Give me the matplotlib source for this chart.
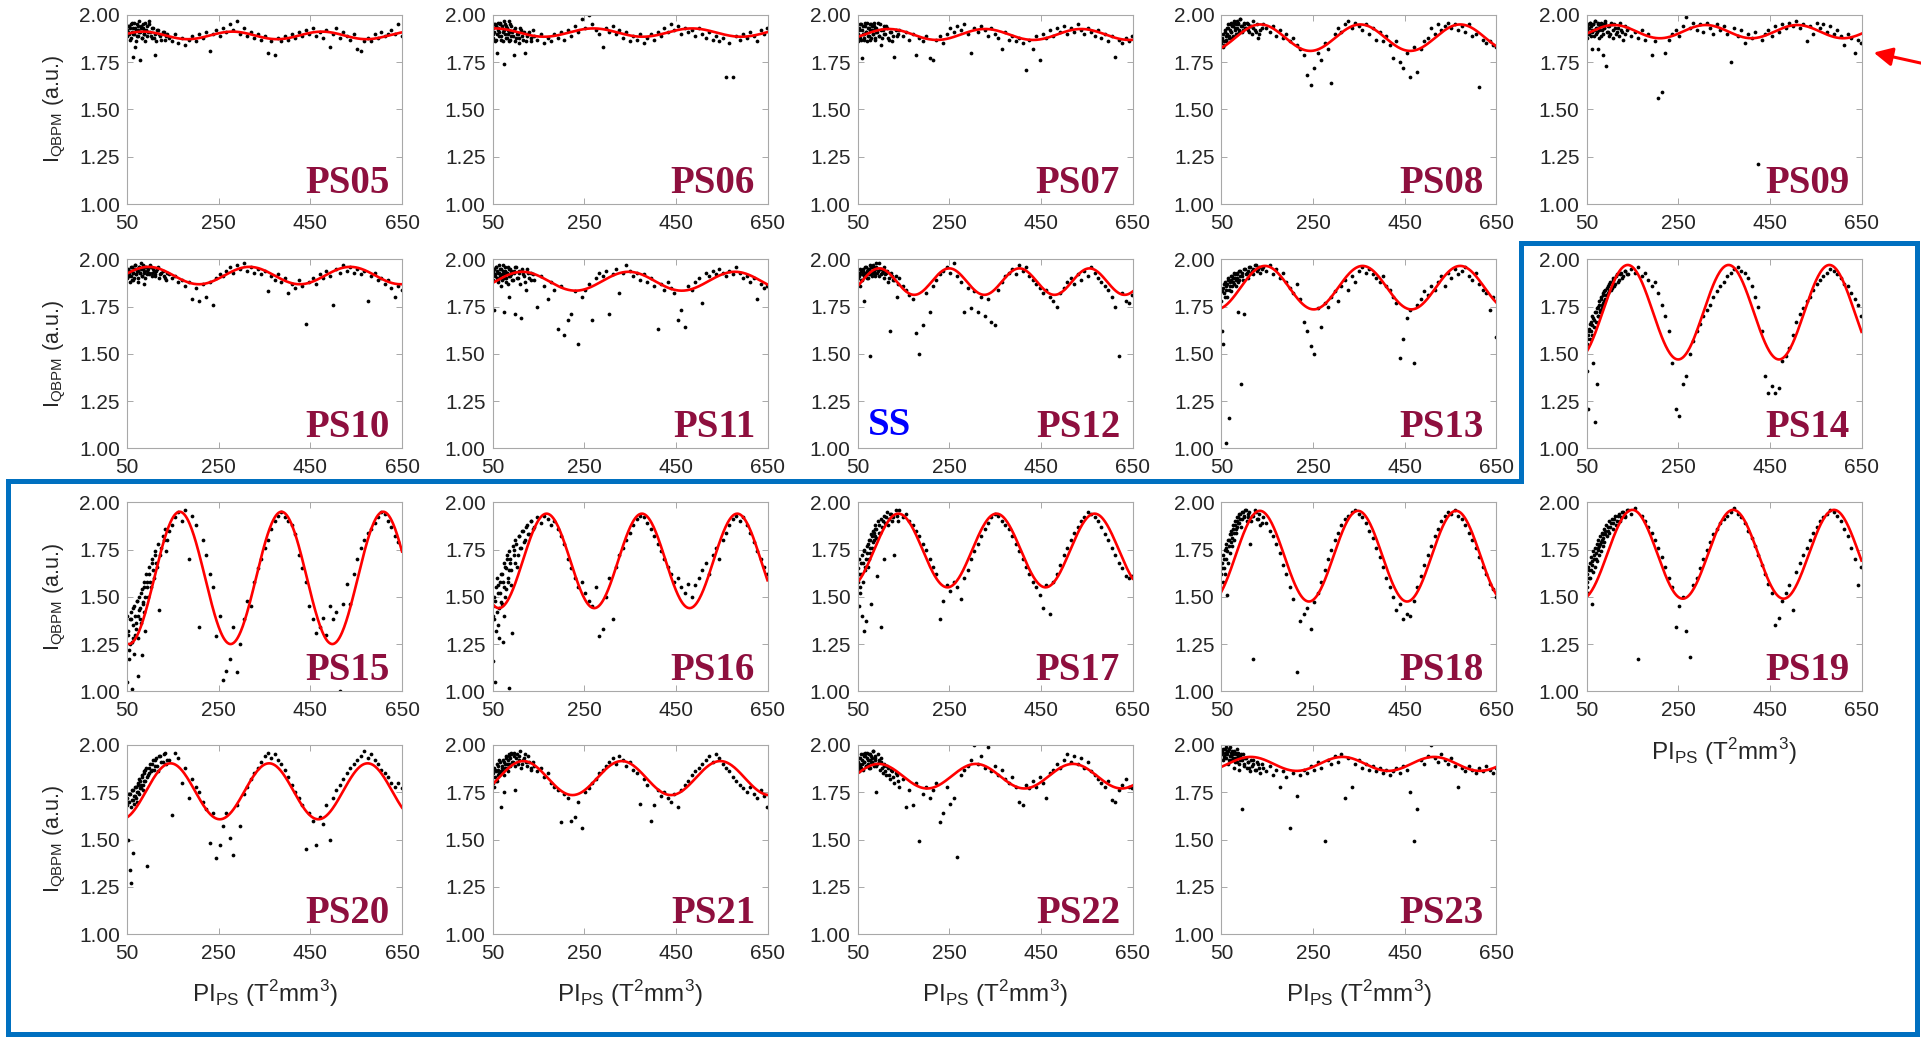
import numpy as np
import matplotlib
matplotlib.use("Agg")
import matplotlib.pyplot as plt
from matplotlib.patches import Polygon, FancyArrowPatch

plt.rcParams['font.family'] = ['Liberation Sans', 'DejaVu Sans']
plt.rcParams['mathtext.fontset'] = 'custom'
plt.rcParams['mathtext.rm'] = 'Liberation Sans'

# PI_PS scan points (shared by every phase shifter)
pi_scan = [50, 51, 53, 54, 56, 57, 59, 60, 62, 63, 65, 66,
           68, 70, 72, 74, 76, 78, 80, 82, 84, 86, 88, 90,
           93, 96, 99, 102, 105, 108, 112, 116, 120, 125, 130, 135,
           141, 148, 155, 162, 170, 177, 185, 192, 200, 207, 215, 222,
           230, 237, 245, 252, 260, 267, 275, 282, 290, 297, 305, 312,
           320, 327, 335, 342, 350, 357, 365, 372, 380, 387, 395, 402,
           410, 417, 425, 432, 440, 447, 455, 462, 470, 477, 485, 492,
           500, 507, 515, 522, 530, 537, 545, 552, 560, 567, 575, 582,
           590, 597, 605, 612, 620, 627, 635, 642, 649]
# second, denser pass over the start of the scan
pi_scan2 = [52, 55, 58, 61, 64, 67, 69, 71, 73, 75,
            77, 79, 81, 83, 85, 87, 89, 91, 94, 97,
            100, 104, 107, 110, 114, 118, 123, 128, 133, 138]

panel_names = ['PS05', 'PS06', 'PS07', 'PS08', 'PS09',
               'PS10', 'PS11', 'PS12', 'PS13', 'PS14',
               'PS15', 'PS16', 'PS17', 'PS18', 'PS19',
               'PS20', 'PS21', 'PS22', 'PS23']

# sine fit parameters
fit_mid = [1.892, 1.907, 1.897, 1.88, 1.912, 1.914, 1.884, 1.882, 1.85, 1.72,
           1.60, 1.69, 1.745, 1.715, 1.725, 1.755, 1.825, 1.835, 1.90]
fit_amp = [0.020, 0.022, 0.029, 0.07, 0.035, 0.046, 0.05, 0.07, 0.115, 0.25,
           0.35, 0.25, 0.195, 0.24, 0.235, 0.148, 0.09, 0.065, 0.037]
fit_period = [195, 215, 210, 218, 200, 220, 232, 153, 213, 220,
              222, 208, 214, 214, 220, 215, 215, 212, 200]
fit_peak = [85, 270, 118, 135, 110, 97, 115, 97, 145, 140,
            165, 168, 139, 134, 150, 145, 117, 96, 114]

ps05_y = [1.92, 1.89, 1.94, 1.90, 1.93, 1.87, 1.95, 1.91, 1.78, 1.93, 1.90, 1.96,
          1.83, 1.92, 1.89, 1.94, 1.91, 1.76, 1.93, 1.88, 1.95, 1.90, 1.92, 1.86,
          1.94, 1.91, 1.97, 1.89, 1.93, 1.88, 1.79, 1.92, 1.90, 1.87, 1.91, 1.89,
          1.88, 1.86, 1.90, 1.85, 1.88, 1.84, 1.87, 1.89, 1.86, 1.90, 1.88, 1.91,
          1.81, 1.90, 1.92, 1.89, 1.93, 1.91, 1.95, 1.92, 1.97, 1.90, 1.93, 1.89,
          1.91, 1.88, 1.90, 1.87, 1.89, 1.80, 1.86, 1.79, 1.88, 1.86, 1.89, 1.87,
          1.90, 1.88, 1.91, 1.89, 1.92, 1.90, 1.93, 1.89, 1.91, 1.88, 1.92, 1.83,
          1.90, 1.93, 1.88, 1.91, 1.89, 1.87, 1.90, 1.82, 1.81, 1.86, 1.88, 1.86,
          1.90, 1.88, 1.91, 1.89, 1.90, 1.92, 1.90, 1.95, 1.89]
ps06_y = [1.93, 1.88, 1.95, 1.91, 1.86, 1.94, 1.90, 1.80, 1.96, 1.92, 1.89, 1.95,
          1.87, 1.93, 1.91, 1.97, 1.74, 1.90, 1.94, 1.88, 1.92, 1.86, 1.95, 1.89,
          1.91, 1.79, 1.93, 1.88, 1.90, 1.85, 1.92, 1.87, 1.80, 1.89, 1.91, 1.86,
          1.89, 1.87, 1.90, 1.85, 1.88, 1.86, 1.90, 1.88, 1.91, 1.87, 1.92, 1.89,
          1.94, 1.91, 1.98, 1.93, 2.00, 1.95, 1.92, 1.90, 1.83, 1.93, 1.91, 1.94,
          1.90, 1.92, 1.88, 1.91, 1.86, 1.89, 1.87, 1.90, 1.85, 1.88, 1.90, 1.87,
          1.91, 1.89, 1.93, 1.91, 1.95, 1.92, 1.94, 1.90, 1.93, 1.91, 1.92, 1.89,
          1.93, 1.90, 1.88, 1.91, 1.87, 1.89, 1.86, 1.88, 1.67, 1.85, 1.67, 1.89,
          1.87, 1.90, 1.88, 1.91, 1.89, 1.86, 1.92, 1.90, 1.93]
ps07_y = [1.90, 1.86, 1.93, 1.89, 1.95, 1.87, 1.92, 1.77, 1.94, 1.90, 1.88, 1.96,
          1.91, 1.86, 1.93, 1.89, 1.95, 1.92, 1.88, 1.94, 1.90, 1.96, 1.87, 1.93,
          1.91, 1.89, 1.95, 1.84, 1.92, 1.90, 1.94, 1.88, 1.91, 1.86, 1.78, 1.89,
          1.92, 1.89, 1.91, 1.87, 1.90, 1.79, 1.88, 1.86, 1.89, 1.77, 1.76, 1.87,
          1.89, 1.85, 1.90, 1.93, 1.91, 1.94, 1.92, 1.95, 1.90, 1.80, 1.93, 1.91,
          1.94, 1.92, 1.89, 1.93, 1.90, 1.88, 1.82, 1.91, 1.87, 1.89, 1.86, 1.88,
          1.85, 1.71, 1.87, 1.82, 1.89, 1.76, 1.90, 1.88, 1.92, 1.89, 1.93, 1.91,
          1.94, 1.90, 1.93, 1.91, 1.95, 1.92, 1.90, 1.93, 1.91, 1.89, 1.92, 1.88,
          1.90, 1.86, 1.89, 1.78, 1.87, 1.85, 1.88, 1.86, 1.89]
ps08_y = [1.85, 1.88, 1.83, 1.90, 1.86, 1.92, 1.89, 1.87, 1.93, 1.90, 1.95, 1.88,
          1.92, 1.96, 1.91, 1.94, 1.89, 1.97, 1.93, 1.95, 1.90, 1.96, 1.92, 1.98,
          1.94, 1.91, 1.95, 1.93, 1.96, 1.92, 1.94, 1.90, 1.93, 1.91, 1.88, 1.92,
          1.95, 1.93, 1.91, 1.94, 1.89, 1.92, 1.88, 1.90, 1.86, 1.88, 1.84, 1.82,
          1.79, 1.68, 1.63, 1.72, 1.80, 1.76, 1.85, 1.82, 1.64, 1.90, 1.93, 1.91,
          1.95, 1.97, 1.93, 1.96, 1.94, 1.92, 1.95, 1.90, 1.93, 1.87, 1.91, 1.86,
          1.89, 1.84, 1.77, 1.86, 1.75, 1.72, 1.80, 1.67, 1.83, 1.70, 1.82, 1.86,
          1.88, 1.93, 1.90, 1.95, 1.92, 1.94, 1.96, 1.93, 1.95, 1.92, 1.94, 1.91,
          1.95, 1.89, 1.90, 1.62, 1.87, 1.85, 1.86, 1.84, 1.83]
ps09_y = [1.92, 1.88, 1.95, 1.90, 1.93, 1.96, 1.89, 1.94, 1.91, 1.82, 1.95, 1.92,
          1.97, 1.90, 1.93, 1.82, 1.96, 1.92, 1.94, 1.89, 1.95, 1.79, 1.93, 1.96,
          1.73, 1.91, 1.94, 1.90, 1.95, 1.88, 1.93, 1.91, 1.89, 1.92, 1.87, 1.90,
          1.93, 1.89, 1.91, 1.88, 1.92, 1.87, 1.90, 1.79, 1.86, 1.56, 1.59, 1.80,
          1.87, 1.90, 1.92, 1.89, 1.94, 1.99, 1.93, 1.96, 1.92, 1.95, 1.91, 1.96,
          1.93, 1.90, 1.95, 1.92, 1.94, 1.90, 1.75, 1.93, 1.89, 1.92, 1.85, 1.90,
          1.88, 1.91, 1.21, 1.87, 1.90, 1.92, 1.89, 1.94, 1.91, 1.95, 1.93, 1.96,
          1.94, 1.97, 1.93, 1.95, 1.86, 1.94, 1.90, 1.96, 1.93, 1.95, 1.91, 1.94,
          1.90, 1.92, 1.89, 1.84, 1.90, 1.88, 1.80, 1.87, 1.85]
ps10_y = [1.93, 1.90, 1.95, 1.92, 1.88, 1.94, 1.91, 1.96, 1.89, 1.93, 1.95, 1.90,
          1.97, 1.92, 1.94, 1.88, 1.96, 1.93, 1.95, 1.91, 1.97, 1.94, 1.87, 1.96,
          1.92, 1.95, 1.93, 1.96, 1.91, 1.94, 1.92, 1.95, 1.90, 1.93, 1.91, 1.89,
          1.92, 1.90, 1.91, 1.88, 1.89, 1.86, 1.88, 1.79, 1.85, 1.78, 1.87, 1.80,
          1.88, 1.76, 1.90, 1.92, 1.91, 1.94, 1.96, 1.93, 1.97, 1.95, 1.98, 1.94,
          1.96, 1.93, 1.95, 1.92, 1.94, 1.83, 1.91, 1.89, 1.92, 1.88, 1.90, 1.82,
          1.87, 1.85, 1.89, 1.86, 1.66, 1.88, 1.90, 1.87, 1.92, 1.90, 1.94, 1.91,
          1.76, 1.95, 1.93, 1.97, 1.94, 1.96, 1.93, 1.95, 1.92, 1.94, 1.78, 1.91,
          1.93, 1.89, 1.90, 1.87, 1.89, 1.85, 1.80, 1.86, 1.84]
ps11_y = [1.93, 1.89, 1.95, 1.73, 1.92, 1.96, 1.90, 1.94, 1.88, 1.93, 1.97, 1.91,
          1.95, 1.89, 1.94, 1.72, 1.92, 1.96, 1.90, 1.93, 1.87, 1.95, 1.91, 1.94,
          1.89, 1.93, 1.71, 1.96, 1.90, 1.94, 1.69, 1.92, 1.88, 1.95, 1.90, 1.93,
          1.89, 1.75, 1.91, 1.86, 1.79, 1.88, 1.84, 1.63, 1.86, 1.60, 1.68, 1.71,
          1.83, 1.55, 1.80, 1.84, 1.87, 1.68, 1.90, 1.93, 1.91, 1.94, 1.71, 1.92,
          1.95, 1.82, 1.93, 1.97, 1.94, 1.91, 1.93, 1.89, 1.92, 1.88, 1.90, 1.86,
          1.63, 1.87, 1.84, 1.88, 1.85, 1.82, 1.68, 1.73, 1.64, 1.86, 1.84, 1.88,
          1.90, 1.77, 1.93, 1.91, 1.94, 1.92, 1.95, 1.93, 1.91, 1.94, 1.92, 1.96,
          1.93, 1.90, 1.91, 1.88, 1.90, 1.79, 1.87, 1.85, 1.86]
ps12_y = [1.90, 1.87, 1.93, 1.91, 1.86, 1.94, 1.92, 1.89, 1.95, 1.78, 1.93, 1.91,
          1.96, 1.94, 1.90, 1.95, 1.92, 1.49, 1.96, 1.93, 1.97, 1.94, 1.91, 1.96,
          1.93, 1.98, 1.95, 1.92, 1.94, 1.90, 1.93, 1.88, 1.62, 1.91, 1.89, 1.80,
          1.90, 1.86, 1.84, 1.81, 1.79, 1.61, 1.50, 1.65, 1.82, 1.72, 1.86, 1.89,
          1.92, 1.94, 1.96, 1.93, 1.98, 1.91, 1.88, 1.72, 1.85, 1.74, 1.83, 1.72,
          1.80, 1.70, 1.79, 1.67, 1.65, 1.84, 1.88, 1.91, 1.93, 1.95, 1.92, 1.97,
          1.94, 1.96, 1.91, 1.89, 1.87, 1.85, 1.82, 1.84, 1.80, 1.78, 1.75, 1.82,
          1.85, 1.88, 1.90, 1.87, 1.92, 1.89, 1.94, 1.91, 1.96, 1.93, 1.90, 1.88,
          1.86, 1.84, 1.80, 1.75, 1.49, 1.82, 1.78, 1.77, 1.81]
ps13_y = [1.78, 1.62, 1.85, 1.55, 1.82, 1.88, 1.03, 1.84, 1.80, 1.87, 1.90, 1.16,
          1.86, 1.89, 1.83, 1.91, 1.88, 1.93, 1.90, 1.86, 1.92, 1.72, 1.89, 1.94,
          1.34, 1.91, 1.71, 1.95, 1.93, 1.90, 1.96, 1.94, 1.92, 1.97, 1.95, 1.93,
          1.96, 1.94, 1.97, 1.92, 1.95, 1.90, 1.93, 1.88, 1.85, 1.82, 1.87, 1.79,
          1.67, 1.62, 1.54, 1.50, 1.74, 1.64, 1.77, 1.75, 1.80, 1.83, 1.78, 1.86,
          1.89, 1.84, 1.91, 1.88, 1.94, 1.96, 1.93, 1.95, 1.92, 1.90, 1.88, 1.91,
          1.86, 1.84, 1.80, 1.77, 1.48, 1.58, 1.69, 1.73, 1.45, 1.76, 1.79, 1.83,
          1.81, 1.86, 1.84, 1.88, 1.91, 1.86, 1.93, 1.90, 1.95, 1.92, 1.94, 1.96,
          1.91, 1.89, 1.93, 1.87, 1.84, 1.82, 1.73, 1.80, 1.59]
ps14_y = [1.55, 1.41, 1.60, 1.21, 1.63, 1.58, 1.67, 1.62, 1.70, 1.65, 1.45, 1.68,
          1.14, 1.72, 1.34, 1.75, 1.70, 1.78, 1.73, 1.80, 1.76, 1.82, 1.78, 1.84,
          1.81, 1.86, 1.83, 1.88, 1.85, 1.90, 1.87, 1.92, 1.89, 1.93, 1.91, 1.94,
          1.92, 1.95, 1.93, 1.96, 1.91, 1.93, 1.89, 1.86, 1.88, 1.82, 1.76, 1.70,
          1.62, 1.45, 1.21, 1.17, 1.34, 1.38, 1.50, 1.57, 1.62, 1.66, 1.70, 1.73,
          1.76, 1.80, 1.83, 1.86, 1.88, 1.91, 1.93, 1.95, 1.96, 1.94, 1.93, 1.90,
          1.86, 1.80, 1.75, 1.62, 1.38, 1.29, 1.33, 1.29, 1.32, 1.46, 1.49, 1.53,
          1.60, 1.67, 1.71, 1.74, 1.78, 1.80, 1.84, 1.87, 1.89, 1.91, 1.93, 1.95,
          1.94, 1.92, 1.90, 1.87, 1.86, 1.82, 1.79, 1.76, 1.70]
ps15_y = [1.40, 1.05, 1.30, 1.17, 1.38, 1.25, 1.42, 1.01, 1.35, 1.28, 1.45, 1.20,
          1.40, 1.33, 1.48, 1.08, 1.43, 1.38, 1.52, 1.19, 1.47, 1.55, 1.42, 1.32,
          1.58, 1.50, 1.62, 1.55, 1.68, 1.60, 1.72, 1.66, 1.43, 1.76, 1.80, 1.74,
          1.85, 1.88, 1.92, 1.95, 1.90, 1.96, 1.70, 1.93, 1.88, 1.34, 1.80, 1.72,
          1.62, 1.55, 1.29, 1.40, 1.06, 1.11, 1.17, 1.34, 1.10, 1.25, 1.38, 1.48,
          1.45, 1.58, 1.65, 1.70, 1.76, 1.80, 1.86, 1.90, 1.93, 1.95, 1.92, 1.90,
          1.88, 1.83, 1.72, 1.65, 1.58, 1.45, 1.38, 1.31, 1.34, 1.39, 1.30, 1.45,
          1.38, 1.42, 1.00, 1.46, 1.57, 1.46, 1.62, 1.70, 1.76, 1.80, 1.84, 1.86,
          1.89, 1.92, 1.95, 1.94, 1.90, 1.87, 1.82, 1.79, 1.76]
ps16_y = [1.45, 1.16, 1.50, 1.38, 1.05, 1.55, 1.42, 1.60, 1.35, 1.52, 1.28, 1.58,
          1.47, 1.62, 1.26, 1.55, 1.68, 1.50, 1.65, 1.72, 1.58, 1.02, 1.70, 1.64,
          1.31, 1.75, 1.68, 1.78, 1.72, 1.82, 1.76, 1.85, 1.80, 1.88, 1.83, 1.90,
          1.87, 1.92, 1.89, 1.93, 1.91, 1.88, 1.90, 1.86, 1.82, 1.78, 1.70, 1.65,
          1.60, 1.55, 1.58, 1.52, 1.48, 1.45, 1.55, 1.29, 1.33, 1.50, 1.60, 1.38,
          1.66, 1.72, 1.76, 1.80, 1.84, 1.88, 1.91, 1.93, 1.92, 1.89, 1.86, 1.82,
          1.78, 1.74, 1.70, 1.66, 1.62, 1.58, 1.60, 1.55, 1.52, 1.57, 1.50, 1.56,
          1.60, 1.64, 1.68, 1.62, 1.72, 1.76, 1.70, 1.80, 1.84, 1.88, 1.91, 1.93,
          1.90, 1.92, 1.88, 1.84, 1.79, 1.74, 1.70, 1.66, 1.62]
ps17_y = [1.58, 1.65, 1.45, 1.70, 1.55, 1.62, 1.72, 1.40, 1.68, 1.75, 1.32, 1.66,
          1.37, 1.73, 1.78, 1.70, 1.80, 1.76, 1.46, 1.82, 1.79, 1.84, 1.86, 1.81,
          1.61, 1.88, 1.84, 1.34, 1.90, 1.70, 1.92, 1.88, 1.94, 1.90, 1.72, 1.93,
          1.96, 1.92, 1.94, 1.90, 1.88, 1.85, 1.82, 1.78, 1.75, 1.70, 1.66, 1.62,
          1.38, 1.48, 1.56, 1.53, 1.58, 1.55, 1.49, 1.60, 1.64, 1.70, 1.74, 1.78,
          1.82, 1.86, 1.89, 1.92, 1.94, 1.93, 1.90, 1.88, 1.86, 1.82, 1.78, 1.74,
          1.70, 1.66, 1.62, 1.58, 1.55, 1.51, 1.44, 1.56, 1.41, 1.58, 1.62, 1.67,
          1.72, 1.76, 1.80, 1.84, 1.87, 1.90, 1.92, 1.95, 1.94, 1.92, 1.90, 1.87,
          1.83, 1.80, 1.76, 1.72, 1.68, 1.65, 1.61, 1.60, 1.61]
ps18_y = [1.62, 1.68, 1.58, 1.72, 1.65, 1.75, 1.70, 1.78, 1.51, 1.74, 1.80, 1.77,
          1.83, 1.79, 1.85, 1.81, 1.88, 1.84, 1.90, 1.86, 1.92, 1.89, 1.94, 1.91,
          1.87, 1.95, 1.92, 1.96, 1.90, 1.94, 1.78, 1.93, 1.17, 1.95, 1.91, 1.88,
          1.92, 1.89, 1.85, 1.82, 1.78, 1.73, 1.67, 1.62, 1.55, 1.49, 1.10, 1.37,
          1.41, 1.44, 1.33, 1.47, 1.52, 1.58, 1.64, 1.70, 1.75, 1.80, 1.84, 1.88,
          1.91, 1.93, 1.95, 1.96, 1.94, 1.92, 1.89, 1.85, 1.81, 1.76, 1.71, 1.66,
          1.60, 1.55, 1.50, 1.43, 1.46, 1.38, 1.41, 1.40, 1.48, 1.55, 1.61, 1.67,
          1.72, 1.77, 1.82, 1.86, 1.90, 1.93, 1.95, 1.94, 1.96, 1.93, 1.91, 1.88,
          1.84, 1.80, 1.76, 1.71, 1.66, 1.62, 1.57, 1.54, 1.50]
ps19_y = [1.55, 1.62, 1.52, 1.66, 1.60, 1.68, 1.64, 1.71, 1.46, 1.69, 1.74, 1.72,
          1.76, 1.70, 1.78, 1.75, 1.80, 1.77, 1.82, 1.79, 1.84, 1.81, 1.86, 1.83,
          1.88, 1.85, 1.90, 1.87, 1.91, 1.89, 1.93, 1.90, 1.94, 1.92, 1.95, 1.93,
          1.96, 1.94, 1.97, 1.17, 1.93, 1.90, 1.87, 1.84, 1.80, 1.76, 1.71, 1.66,
          1.60, 1.55, 1.34, 1.45, 1.50, 1.32, 1.18, 1.56, 1.60, 1.65, 1.70, 1.75,
          1.79, 1.83, 1.86, 1.89, 1.91, 1.93, 1.95, 1.97, 1.94, 1.92, 1.89, 1.85,
          1.81, 1.77, 1.72, 1.67, 1.62, 1.57, 1.52, 1.35, 1.39, 1.48, 1.52, 1.56,
          1.43, 1.63, 1.68, 1.72, 1.76, 1.80, 1.84, 1.87, 1.90, 1.92, 1.94, 1.96,
          1.95, 1.93, 1.90, 1.86, 1.82, 1.76, 1.70, 1.56, 1.66]
ps20_y = [1.68, 1.72, 1.50, 1.70, 1.34, 1.74, 1.27, 1.71, 1.43, 1.76, 1.69, 1.73,
          1.78, 1.72, 1.75, 1.79, 1.74, 1.81, 1.77, 1.83, 1.79, 1.85, 1.81, 1.87,
          1.36, 1.84, 1.88, 1.86, 1.90, 1.87, 1.92, 1.89, 1.94, 1.91, 1.95, 1.90,
          1.92, 1.63, 1.96, 1.93, 1.80, 1.88, 1.72, 1.82, 1.78, 1.75, 1.70, 1.66,
          1.48, 1.64, 1.40, 1.47, 1.57, 1.64, 1.51, 1.42, 1.68, 1.57, 1.74, 1.78,
          1.82, 1.85, 1.88, 1.91, 1.94, 1.96, 1.93, 1.95, 1.92, 1.90, 1.87, 1.83,
          1.79, 1.75, 1.72, 1.68, 1.45, 1.64, 1.60, 1.47, 1.62, 1.58, 1.68, 1.50,
          1.72, 1.76, 1.79, 1.82, 1.85, 1.88, 1.90, 1.92, 1.94, 1.97, 1.93, 1.95,
          1.92, 1.90, 1.87, 1.85, 1.83, 1.80, 1.78, 1.80, 1.77]
ps21_y = [1.80, 1.85, 1.78, 1.88, 1.83, 1.86, 1.81, 1.90, 1.84, 1.87, 1.92, 1.85,
          1.67, 1.89, 1.86, 1.91, 1.75, 1.88, 1.93, 1.90, 1.86, 1.94, 1.89, 1.95,
          1.91, 1.96, 1.76, 1.93, 1.90, 1.94, 1.88, 1.92, 1.95, 1.89, 1.91, 1.87,
          1.89, 1.86, 1.88, 1.83, 1.85, 1.80, 1.78, 1.76, 1.59, 1.74, 1.72, 1.60,
          1.62, 1.70, 1.56, 1.75, 1.77, 1.80, 1.82, 1.85, 1.87, 1.89, 1.91, 1.93,
          1.90, 1.94, 1.92, 1.89, 1.91, 1.87, 1.85, 1.69, 1.82, 1.79, 1.60, 1.68,
          1.76, 1.73, 1.75, 1.72, 1.70, 1.74, 1.67, 1.76, 1.79, 1.81, 1.84, 1.86,
          1.88, 1.90, 1.92, 1.94, 1.91, 1.95, 1.93, 1.90, 1.88, 1.86, 1.83, 1.81,
          1.79, 1.77, 1.75, 1.78, 1.74, 1.72, 1.76, 1.73, 1.67]
ps22_y = [1.88, 1.91, 1.86, 1.93, 1.89, 1.95, 1.90, 1.92, 1.87, 1.94, 1.91, 1.96,
          1.89, 1.93, 1.90, 1.95, 1.92, 1.88, 1.94, 1.91, 1.97, 1.89, 1.93, 1.75,
          1.90, 1.92, 1.87, 1.91, 1.85, 1.89, 1.84, 1.88, 1.82, 1.86, 1.80, 1.84,
          1.78, 1.82, 1.67, 1.76, 1.68, 1.80, 1.49, 1.74, 1.78, 1.72, 1.76, 1.80,
          1.59, 1.64, 1.78, 1.69, 1.72, 1.41, 1.84, 1.87, 1.89, 1.92, 2.00, 1.90,
          1.94, 1.88, 1.99, 1.86, 1.89, 1.84, 1.87, 1.82, 1.80, 1.83, 1.78, 1.70,
          1.68, 1.79, 1.77, 1.81, 1.78, 1.83, 1.80, 1.72, 1.85, 1.87, 1.90, 1.88,
          1.92, 1.95, 1.91, 1.94, 1.90, 1.93, 1.88, 1.91, 1.86, 1.84, 1.82, 1.80,
          1.78, 1.81, 1.71, 1.70, 1.76, 1.79, 1.82, 1.78, 1.77]
ps23_y = [1.95, 1.97, 1.92, 1.98, 1.94, 1.96, 1.99, 1.93, 1.97, 1.95, 1.90, 1.98,
          1.94, 1.96, 1.92, 1.97, 1.95, 1.88, 1.93, 1.96, 1.91, 1.94, 1.87, 1.92,
          1.95, 1.66, 1.90, 1.93, 1.88, 1.91, 1.86, 1.89, 1.92, 1.87, 1.90, 1.85,
          1.88, 1.86, 1.89, 1.84, 1.87, 1.78, 1.86, 1.83, 1.56, 1.85, 1.73, 1.84,
          1.87, 1.85, 1.89, 1.87, 1.91, 1.88, 1.49, 1.92, 1.90, 1.94, 1.91, 1.95,
          1.72, 1.93, 1.78, 1.90, 1.92, 1.88, 1.90, 1.87, 1.89, 1.86, 1.88, 1.85,
          1.87, 1.84, 1.86, 1.88, 1.85, 1.89, 1.87, 1.75, 1.49, 1.66, 1.92, 1.90,
          1.94, 2.00, 1.93, 1.91, 1.95, 1.92, 1.90, 1.93, 1.89, 1.78, 1.88, 1.86,
          1.89, 1.87, 1.85, 1.88, 1.86, 1.89, 1.87, 1.85, 1.88]

# readings on the second pass (pi_scan2)
ps05_y2 = [1.91, 1.94, 1.88, 1.96, 1.90, 1.93, 1.86, 1.95, 1.92, 1.89,
           1.97, 1.91, 1.94, 1.88, 1.93, 1.90, 1.96, 1.92, 1.89, 1.95,
           1.91, 1.88, 1.93, 1.90, 1.86, 1.92, 1.89, 1.91, 1.87, 1.90]
ps06_y2 = [1.90, 1.95, 1.87, 1.93, 1.91, 1.96, 1.89, 1.94, 1.86, 1.92,
           1.95, 1.88, 1.93, 1.90, 1.97, 1.91, 1.87, 1.94, 1.89, 1.92,
           1.86, 1.90, 1.88, 1.93, 1.89, 1.91, 1.86, 1.90, 1.88, 1.92]
ps07_y2 = [1.92, 1.88, 1.95, 1.90, 1.87, 1.94, 1.91, 1.96, 1.89, 1.93,
           1.87, 1.95, 1.92, 1.90, 1.94, 1.88, 1.93, 1.91, 1.96, 1.89,
           1.92, 1.88, 1.94, 1.90, 1.93, 1.87, 1.91, 1.89, 1.92, 1.90]
ps08_y2 = [1.87, 1.84, 1.91, 1.86, 1.93, 1.89, 1.95, 1.91, 1.88, 1.94,
           1.96, 1.92, 1.90, 1.97, 1.93, 1.95, 1.91, 1.98, 1.94, 1.92,
           1.96, 1.93, 1.95, 1.91, 1.94, 1.97, 1.92, 1.95, 1.90, 1.93]
ps09_y2 = [1.94, 1.90, 1.96, 1.92, 1.95, 1.89, 1.97, 1.93, 1.91, 1.95,
           1.88, 1.94, 1.96, 1.92, 1.90, 1.95, 1.93, 1.97, 1.91, 1.94,
           1.89, 1.96, 1.92, 1.95, 1.90, 1.93, 1.96, 1.91, 1.94, 1.92]
ps10_y2 = [1.94, 1.91, 1.96, 1.89, 1.93, 1.97, 1.92, 1.95, 1.90, 1.94,
           1.96, 1.93, 1.98, 1.91, 1.95, 1.93, 1.90, 1.96, 1.94, 1.92,
           1.97, 1.93, 1.95, 1.91, 1.94, 1.96, 1.92, 1.94, 1.90, 1.93]
ps11_y2 = [1.94, 1.91, 1.96, 1.89, 1.93, 1.95, 1.86, 1.92, 1.97, 1.90,
           1.94, 1.88, 1.93, 1.96, 1.91, 1.80, 1.95, 1.92, 1.89, 1.94,
           1.96, 1.90, 1.93, 1.87, 1.95, 1.91, 1.84, 1.93, 1.89, 1.92]
ps12_y2 = [1.92, 1.95, 1.89, 1.94, 1.91, 1.96, 1.93, 1.90, 1.95, 1.92,
           1.97, 1.94, 1.91, 1.96, 1.93, 1.95, 1.92, 1.98, 1.94, 1.91,
           1.95, 1.93, 1.96, 1.92, 1.94, 1.90, 1.93, 1.89, 1.91, 1.87]
ps13_y2 = [1.83, 1.87, 1.80, 1.86, 1.89, 1.84, 1.88, 1.91, 1.86, 1.90,
           1.87, 1.92, 1.89, 1.93, 1.90, 1.88, 1.94, 1.91, 1.93, 1.89,
           1.95, 1.92, 1.94, 1.96, 1.93, 1.95, 1.97, 1.94, 1.96, 1.95]
ps14_y2 = [1.58, 1.62, 1.66, 1.60, 1.69, 1.64, 1.72, 1.67, 1.74, 1.70,
           1.76, 1.72, 1.79, 1.74, 1.81, 1.77, 1.83, 1.79, 1.85, 1.82,
           1.87, 1.84, 1.89, 1.86, 1.91, 1.88, 1.92, 1.90, 1.94, 1.92]
ps15_y2 = [1.32, 1.22, 1.38, 1.26, 1.44, 1.30, 1.36, 1.48, 1.40, 1.28,
           1.50, 1.44, 1.36, 1.54, 1.46, 1.58, 1.50, 1.62, 1.55, 1.66,
           1.58, 1.70, 1.64, 1.74, 1.68, 1.78, 1.72, 1.82, 1.86, 1.80]
ps16_y2 = [1.40, 1.48, 1.32, 1.56, 1.44, 1.52, 1.62, 1.46, 1.58, 1.40,
           1.66, 1.54, 1.70, 1.60, 1.64, 1.74, 1.68, 1.56, 1.77, 1.72,
           1.80, 1.66, 1.82, 1.76, 1.85, 1.79, 1.87, 1.83, 1.90, 1.86]
ps17_y2 = [1.62, 1.52, 1.68, 1.58, 1.74, 1.64, 1.70, 1.77, 1.66, 1.80,
           1.73, 1.83, 1.76, 1.85, 1.80, 1.88, 1.82, 1.86, 1.90, 1.84,
           1.91, 1.87, 1.93, 1.89, 1.95, 1.91, 1.94, 1.92, 1.96, 1.90]
ps18_y2 = [1.65, 1.70, 1.62, 1.76, 1.68, 1.80, 1.73, 1.83, 1.77, 1.86,
           1.80, 1.88, 1.84, 1.90, 1.87, 1.92, 1.89, 1.94, 1.91, 1.95,
           1.93, 1.96, 1.92, 1.95, 1.90, 1.93, 1.96, 1.91, 1.94, 1.89]
ps19_y2 = [1.58, 1.64, 1.60, 1.67, 1.63, 1.70, 1.66, 1.73, 1.69, 1.76,
           1.72, 1.78, 1.74, 1.80, 1.77, 1.83, 1.79, 1.85, 1.82, 1.87,
           1.84, 1.89, 1.86, 1.91, 1.88, 1.93, 1.90, 1.95, 1.92, 1.96]
ps20_y2 = [1.70, 1.74, 1.67, 1.76, 1.71, 1.73, 1.78, 1.70, 1.80, 1.75,
           1.82, 1.77, 1.79, 1.84, 1.76, 1.86, 1.81, 1.88, 1.83, 1.85,
           1.90, 1.87, 1.92, 1.89, 1.93, 1.86, 1.94, 1.91, 1.96, 1.92]
ps21_y2 = [1.83, 1.87, 1.81, 1.89, 1.85, 1.91, 1.86, 1.88, 1.92, 1.84,
           1.90, 1.94, 1.88, 1.92, 1.95, 1.90, 1.93, 1.96, 1.91, 1.94,
           1.89, 1.95, 1.92, 1.97, 1.90, 1.93, 1.91, 1.94, 1.88, 1.91]
ps22_y2 = [1.90, 1.93, 1.88, 1.95, 1.91, 1.94, 1.89, 1.96, 1.92, 1.88,
           1.95, 1.91, 1.93, 1.97, 1.90, 1.94, 1.92, 1.89, 1.95, 1.91,
           1.93, 1.88, 1.90, 1.86, 1.89, 1.84, 1.87, 1.83, 1.85, 1.81]
ps23_y2 = [1.96, 1.93, 1.98, 1.95, 1.97, 1.92, 1.99, 1.94, 1.96, 1.93,
           1.97, 1.91, 1.95, 1.98, 1.93, 1.96, 1.90, 1.94, 1.92, 1.95,
           1.89, 1.93, 1.91, 1.88, 1.92, 1.90, 1.87, 1.91, 1.88, 1.90]

panel_y = [ps05_y, ps06_y, ps07_y, ps08_y, ps09_y, ps10_y, ps11_y, ps12_y,
           ps13_y, ps14_y, ps15_y, ps16_y, ps17_y, ps18_y, ps19_y, ps20_y,
           ps21_y, ps22_y, ps23_y]
panel_y2 = [ps05_y2, ps06_y2, ps07_y2, ps08_y2, ps09_y2, ps10_y2, ps11_y2,
            ps12_y2, ps13_y2, ps14_y2, ps15_y2, ps16_y2, ps17_y2, ps18_y2,
            ps19_y2, ps20_y2, ps21_y2, ps22_y2, ps23_y2]

W, H = 1921, 1037
col_left = [127, 492.5, 857.6, 1221.4, 1586.5]
row_top = [15, 259.3, 502.3, 745]
ax_w, ax_h = 275, 189

label_color = '#8E0F3E'
tick_color = '#262626'
frame_color = '#A8A8A8'


def draw_panel(ax, i):
    x = np.concatenate([pi_scan, pi_scan2])
    y = np.concatenate([panel_y[i], panel_y2[i]])
    ax.plot(x, y, 'o', color='black', markersize=2.7, markeredgewidth=0)
    xf = np.linspace(50, 650, 400)
    yf = fit_mid[i] + fit_amp[i] * np.cos(2 * np.pi * (xf - fit_peak[i]) / fit_period[i])
    ax.plot(xf, yf, color='#FF0000', lw=1.9)

    ax.set_xlim(50, 650)
    ax.set_ylim(1.0, 2.0)
    ax.set_xticks([50, 250, 450, 650])
    ax.set_yticks([1.0, 1.25, 1.5, 1.75, 2.0])
    ax.set_yticklabels(['1.00', '1.25', '1.50', '1.75', '2.00'])
    ax.tick_params(direction='in', length=4, width=0.7, top=True, right=True,
                   color=frame_color, labelcolor=tick_color, labelsize=15, pad=5)
    ax.tick_params(axis='x', pad=7)
    for s in ax.spines.values():
        s.set_color(frame_color)
        s.set_linewidth(0.8)

    ax.text(0.955, 0.06, panel_names[i], transform=ax.transAxes, ha='right',
            va='baseline', fontsize=28, fontweight='bold', color=label_color,
            family='Liberation Serif')


fig = plt.figure(figsize=(W / 100, H / 100), dpi=100)

for i, name in enumerate(panel_names):
    r, c = i // 5, i % 5
    ax = fig.add_axes([col_left[c] / W, 1 - (row_top[r] + ax_h) / H, ax_w / W, ax_h / H])
    draw_panel(ax, i)
    if c == 0:
        ax.set_ylabel(r'$\mathregular{I_{QBPM}}$ (a.u.)', fontsize=15.5, color=tick_color)
        ax.yaxis.set_label_coords(-0.215, 0.5)
    if i >= 14:
        ax.set_xlabel(r'$\mathregular{PI_{PS}}$ (T$^{\mathregular{2}}$mm$^{\mathregular{3}}$)',
                      fontsize=17.5, color=tick_color)
        ax.xaxis.set_label_coords(0.5, -0.235)
    if name == 'PS12':
        ax.text(0.037, 0.07, 'SS', transform=ax.transAxes, ha='left', va='baseline',
                fontsize=28, fontweight='bold', color='#0000FF', family='Liberation Serif')

# blue outline around the strongly modulated panels
outline = [(8, 481), (1521, 481), (1521, 243), (1917, 243), (1917, 1034), (8, 1034)]
fig.add_artist(Polygon([(px / W, 1 - py / H) for px, py in outline], closed=True,
                       fill=False, edgecolor='#0070C0', lw=3.6,
                       transform=fig.transFigure))

# red arrow pointing at PS09
fig.add_artist(FancyArrowPatch((1925 / W, 1 - 64 / H), (1871 / W, 1 - 52 / H),
                               transform=fig.transFigure, arrowstyle='-|>',
                               mutation_scale=28, color='#FF0000', lw=2.2))

fig.savefig('out.png', dpi=100, facecolor='white')
